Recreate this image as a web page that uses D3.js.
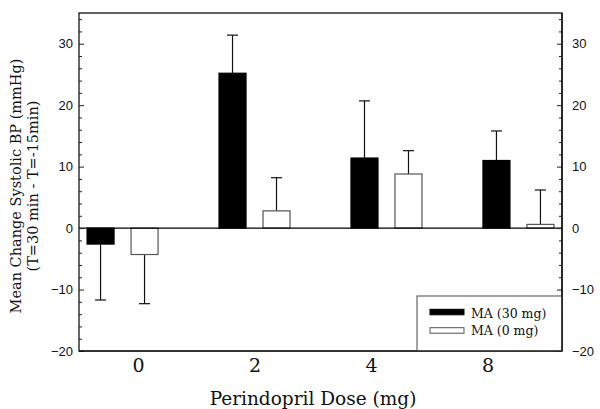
<!DOCTYPE html>
<html><head><meta charset="utf-8">
<script src="https://cdn.jsdelivr.net/npm/d3@7"></script>
<style>body{margin:0;background:#fff}svg{display:block}</style>
</head><body>
<svg id="c" width="600" height="409"></svg>
<script>
const doses = ["0", "2", "4", "8"];
const series = ["MA (30 mg)", "MA (0 mg)"];
const ma30 = [-2.6, 25.2, 11.4, 11.0];
const ma30Err = [-11.7, 31.4, 20.7, 15.8];
const ma0 = [-4.3, 2.8, 8.8, 0.6];
const ma0Err = [-12.3, 8.2, 12.6, 6.2];
const yTicks = [-20, -10, 0, 10, 20, 30];

const SERIF = "DejaVu Serif, Georgia, serif";
const svg = d3.select("#c");
const L = 79, R = 562, T = 13, B = 351;
const y = d3.scaleLinear().domain([-20, 35]).range([B, T]);
const x0 = d3.scalePoint().domain(doses).range([L, R]).padding(0.33);
const x1 = d3.scaleBand().domain(series).range([-35.5, 35.5]).paddingInner(0.386);
const xLab = d3.scalePoint().domain(doses).range([138, 487.5]);

const data = doses.map((d, i) => ({dose: d, vals: [
  {s: series[0], v: ma30[i], e: ma30Err[i]},
  {s: series[1], v: ma0[i], e: ma0Err[i]}]}));

svg.append("rect").attr("x", L).attr("y", T).attr("width", R - L).attr("height", B - T)
  .attr("fill", "none").attr("stroke", "#000").attr("stroke-width", 1.2);

const g = svg.selectAll("g.grp").data(data).join("g").attr("class", "grp")
  .attr("transform", d => `translate(${x0(d.dose)},0)`);
g.selectAll("g.eb").data(d => d.vals).join("g").attr("class", "eb").each(function(d) {
  const cx = x1(d.s) + x1.bandwidth() / 2;
  const s = d3.select(this);
  s.append("line").attr("x1", cx).attr("x2", cx).attr("y1", y(d.v)).attr("y2", y(d.e))
    .attr("stroke", "#111").attr("stroke-width", 1.2);
  s.append("line").attr("x1", cx - 5.5).attr("x2", cx + 5.5).attr("y1", y(d.e)).attr("y2", y(d.e))
    .attr("stroke", "#111").attr("stroke-width", 1.2);
});
g.selectAll("rect").data(d => d.vals).join("rect")
  .attr("x", d => x1(d.s)).attr("width", x1.bandwidth())
  .attr("y", d => y(Math.max(0, d.v))).attr("height", d => Math.abs(y(d.v) - y(0)))
  .attr("fill", d => d.s === series[0] ? "#000" : "#fff")
  .attr("stroke", d => d.s === series[0] ? "#000" : "#555").attr("stroke-width", 1.2);

svg.append("line").attr("x1", L).attr("x2", R).attr("y1", y(0)).attr("y2", y(0))
  .attr("stroke", "#000").attr("stroke-width", 1.2);

const minor = d3.range(-20, 36, 2).filter(v => v % 10 !== 0);
function axis(side) {
  const ax = (side === "left" ? d3.axisLeft(y) : d3.axisRight(y))
    .tickValues(yTicks).tickSize(-5).tickPadding(side === "left" ? 6 : 10).tickFormat(d3.format("d"));
  const gg = svg.append("g").attr("transform", `translate(${side === "left" ? L : R},0)`).call(ax);
  gg.select(".domain").remove();
  gg.selectAll(".tick line").attr("stroke", "#222");
  gg.selectAll("text").attr("font-family", "Liberation Sans, Arial, sans-serif").attr("font-size", 13).attr("fill", "#111");
  const ax2 = (side === "left" ? d3.axisLeft(y) : d3.axisRight(y)).tickValues(minor).tickSize(-3).tickFormat("");
  const g2 = svg.append("g").attr("transform", `translate(${side === "left" ? L : R},0)`).call(ax2);
  g2.select(".domain").remove();
  g2.selectAll(".tick line").attr("stroke", "#222");
}
axis("left"); axis("right");

const xa = d3.axisBottom(xLab).tickSize(0).tickPadding(0);
const gx = svg.append("g").attr("transform", `translate(0,${B})`).call(xa);
gx.select(".domain").remove();
gx.selectAll("text").attr("dy", null).attr("y", 21).attr("font-family", SERIF)
  .attr("font-size", 19).attr("fill", "#111");

svg.append("text").attr("x", 313).attr("y", 405).attr("text-anchor", "middle")
  .attr("font-family", SERIF).attr("font-size", 18.5).attr("fill", "#111")
  .text("Perindopril Dose (mg)");

const yt = svg.append("text").attr("transform", "translate(0,186) rotate(-90)")
  .attr("text-anchor", "middle").attr("font-family", SERIF).attr("font-size", 14.5).attr("fill", "#111");
yt.append("tspan").attr("x", 0).attr("y", 21).text("Mean Change Systolic BP (mmHg)");
yt.append("tspan").attr("x", 0).attr("y", 38).text("(T=30 min - T=-15min)");

const lg = svg.append("g");
lg.append("rect").attr("x", 417).attr("y", 296).attr("width", R - 417).attr("height", B - 296)
  .attr("fill", "#fff").attr("stroke", "#666").attr("stroke-width", 1.2);
series.forEach((s, i) => {
  lg.append("rect").attr("x", 430).attr("y", 309.3 + i * 18.4).attr("width", 34).attr("height", 5.5)
    .attr("fill", i === 0 ? "#000" : "#fff").attr("stroke", i === 0 ? "#000" : "#555");
  lg.append("text").attr("x", 471).attr("y", 317.5 + i * 17.5)
    .attr("font-family", SERIF).attr("font-size", 12.5).attr("fill", "#111").text(s);
});
svg.append("line").attr("x1", L).attr("x2", R).attr("y1", B).attr("y2", B).attr("stroke", "#000").attr("stroke-width", 1.2);
svg.append("line").attr("x1", R).attr("x2", R).attr("y1", T).attr("y2", B).attr("stroke", "#000").attr("stroke-width", 1.2);
</script>
</body></html>
